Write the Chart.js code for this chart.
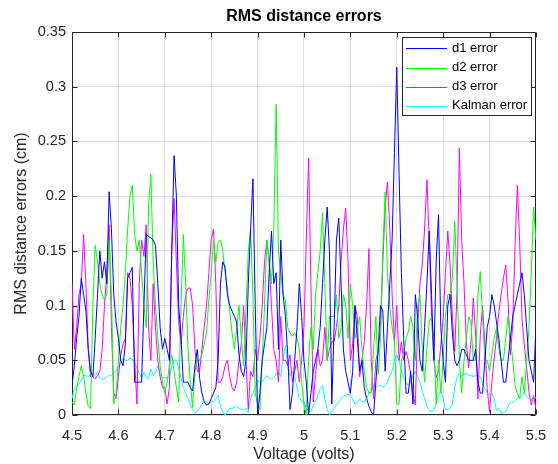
<!DOCTYPE html>
<html>
<head>
<meta charset="utf-8">
<script src="https://cdn.jsdelivr.net/npm/chart.js@4.4.1/dist/chart.umd.min.js"></script>
<style>
html,body{margin:0;padding:0;background:#fff;}
canvas{display:block;}
</style>
</head>
<body>
<canvas id="c" width="558" height="464"></canvas>
<script>
// ---- data ----
const X_START = 4.5, X_STEP = 0.005;   // sampling grid of the voltage sweep

const d1Error = [
0.027,0.045,0.07,0.09,0.125,0.11,0.095,0.06,0.04,0.035,
0.07,0.11,0.15,0.125,0.14,0.12,0.204,0.17,0.11,0.085,
0.07,0.05,0.045,0.065,0.125,0.13,0.135,0.03,0.03,0.03,
0.03,0.1,0.165,0.163,0.162,0.16,0.155,0.12,0.08,0.06,
0.07,0.06,0.05,0.15,0.237,0.2,0.1,0.07,0.03,0.03,
0.03,0.025,0.022,0.045,0.06,0.034,0.02,0.012,0.009,0.01,
0.015,0.02,0.025,0.05,0.12,0.14,0.135,0.11,0.1,0.095,
0.09,0.085,0.055,0.04,0.035,0.05,0.12,0.17,0.216,0.1,
0.0,0.02,0.05,0.065,0.08,0.13,0.168,0.12,0.13,0.06,
0.16,0.11,0.09,0.055,0.005,0.02,0.05,0.08,0.12,0.09,
0.05,0.03,0.0,0.02,0.04,0.05,0.06,0.08,0.12,0.16,
0.19,0.15,0.01,0.08,0.16,0.18,0.12,0.06,0.04,0.03,
0.02,0.04,0.1,0.07,0.04,0.05,0.025,0.015,0.008,0.003,
0.0,0.03,0.06,0.1,0.095,0.04,0.08,0.12,0.16,0.24,
0.318,0.22,0.13,0.07,0.02,0.02,0.04,0.01,0.11,0.09,
0.05,0.04,0.08,0.12,0.168,0.11,0.05,0.14,0.183,0.08,
0.05,0.03,0.1,0.11,0.075,0.05,0.045,0.05,0.06,0.06,
0.055,0.05,0.05,0.05,0.06,0.03,0.02,0.02,0.05,0.08,
0.09,0.11,0.1,0.085,0.07,0.05,0.03,0.03,0.05,0.07,
0.09,0.1,0.11,0.12,0.13,0.11,0.08,0.05,0.04,0.03,
0.08];

const d2Error = [
0.012,0.009,0.025,0.035,0.045,0.035,0.02,0.008,0.006,0.1,
0.155,0.14,0.12,0.11,0.105,0.11,0.16,0.11,0.01,0.02,
0.05,0.08,0.1,0.13,0.17,0.2,0.21,0.165,0.15,0.16,
0.13,0.1,0.08,0.19,0.22,0.14,0.1,0.07,0.045,0.03,
0.02,0.03,0.045,0.055,0.04,0.025,0.012,0.1,0.165,0.12,
0.06,0.03,0.007,0.04,0.05,0.05,0.055,0.065,0.075,0.105,
0.13,0.16,0.14,0.158,0.16,0.15,0.13,0.115,0.095,0.075,
0.06,0.08,0.1,0.07,0.045,0.095,0.15,0.17,0.11,0.02,
0.01,0.005,0.05,0.1,0.16,0.14,0.12,0.17,0.284,0.15,
0.13,0.11,0.105,0.08,0.075,0.072,0.075,0.07,0.06,0.03,
0.01,0.0,0.05,0.08,0.06,0.11,0.13,0.15,0.185,0.12,
0.05,0.09,0.09,0.09,0.11,0.07,0.08,0.11,0.1,0.07,
0.12,0.1,0.07,0.08,0.09,0.06,0.04,0.025,0.02,0.02,
0.06,0.09,0.037,0.07,0.15,0.204,0.13,0.1,0.08,0.067,
0.01,0.01,0.05,0.055,0.07,0.076,0.09,0.08,0.05,0.1,
0.11,0.06,0.03,0.06,0.085,0.09,0.07,0.01,0.05,0.02,
0.05,0.09,0.11,0.11,0.125,0.177,0.12,0.05,0.02,0.05,
0.07,0.09,0.085,0.05,0.05,0.11,0.131,0.09,0.05,0.05,
0.04,0.055,0.07,0.08,0.06,0.05,0.05,0.07,0.09,0.07,
0.05,0.027,0.02,0.015,0.035,0.02,0.05,0.08,0.13,0.19,
0.16];

const d3Error = [
0.12,0.06,0.08,0.11,0.12,0.165,0.12,0.06,0.035,0.035,
0.033,0.036,0.04,0.06,0.1,0.13,0.174,0.08,0.02,0.015,
0.035,0.055,0.065,0.07,0.13,0.125,0.1,0.05,0.01,0.12,
0.16,0.145,0.174,0.08,0.05,0.12,0.08,0.05,0.035,0.025,
0.025,0.01,0.025,0.15,0.198,0.14,0.085,0.065,0.09,0.11,
0.116,0.116,0.1,0.06,0.04,0.04,0.06,0.08,0.1,0.13,
0.16,0.17,0.12,0.03,0.03,0.035,0.045,0.05,0.035,0.025,
0.022,0.03,0.05,0.065,0.1,0.05,0.005,0.04,0.035,0.06,
0.05,0.07,0.1,0.14,0.16,0.14,0.1,0.06,0.05,0.03,
0.09,0.05,0.05,0.045,0.055,0.03,0.04,0.05,0.03,0.05,
0.08,0.16,0.235,0.12,0.012,0.037,0.06,0.045,0.05,0.08,
0.05,0.06,0.067,0.067,0.08,0.1,0.14,0.17,0.189,0.14,
0.05,0.065,0.1,0.09,0.035,0.05,0.067,0.1,0.152,0.05,
0.015,0.05,0.058,0.08,0.14,0.19,0.213,0.17,0.11,0.067,
0.1,0.05,0.067,0.05,0.058,0.05,0.037,0.02,0.009,0.08,
0.12,0.137,0.17,0.215,0.16,0.09,0.05,0.034,0.04,0.064,
0.088,0.13,0.168,0.137,0.088,0.058,0.113,0.244,0.16,0.12,
0.067,0.043,0.067,0.107,0.073,0.015,0.073,0.1,0.064,0.024,
0.003,0.03,0.052,0.07,0.094,0.11,0.125,0.137,0.104,0.055,
0.082,0.155,0.21,0.158,0.088,0.064,0.043,0.021,0.009,0.018,
0.006];

const kalmanError = [
0.015,0.024,0.027,0.028,0.032,0.036,0.036,0.035,0.037,0.038,
0.036,0.039,0.034,0.033,0.033,0.035,0.037,0.036,0.038,0.04,
0.044,0.048,0.052,0.05,0.05,0.052,0.051,0.048,0.043,0.038,
0.034,0.039,0.034,0.033,0.042,0.036,0.038,0.045,0.037,0.034,
0.034,0.034,0.034,0.045,0.05,0.05,0.043,0.034,0.025,0.02,
0.015,0.01,0.005,0.002,0.003,0.006,0.01,0.012,0.012,0.01,
0.012,0.012,0.015,0.018,0.008,0.003,0.0,0.003,0.006,0.006,
0.007,0.008,0.006,0.005,0.004,0.006,0.002,0.015,0.02,0.025,
0.032,0.03,0.03,0.033,0.036,0.034,0.033,0.034,0.038,0.04,
0.035,0.052,0.064,0.045,0.036,0.04,0.035,0.025,0.015,0.013,
0.012,0.006,0.004,0.003,0.009,0.012,0.018,0.024,0.027,0.015,
0.005,0.0,0.003,0.006,0.009,0.012,0.015,0.017,0.018,0.019,
0.018,0.015,0.01,0.012,0.015,0.012,0.012,0.015,0.02,0.021,
0.027,0.025,0.027,0.027,0.025,0.027,0.03,0.036,0.04,0.05,
0.055,0.05,0.04,0.034,0.03,0.027,0.03,0.036,0.04,0.035,
0.03,0.022,0.015,0.008,0.004,0.003,0.004,0.01,0.018,0.022,
0.015,0.005,0.005,0.006,0.01,0.025,0.035,0.038,0.036,0.037,
0.038,0.036,0.036,0.035,0.036,0.036,0.035,0.028,0.024,0.02,
0.018,0.02,0.015,0.004,0.006,0.002,0.002,0.003,0.008,0.011,
0.012,0.013,0.015,0.016,0.018,0.021,0.017,0.015,0.014,0.015,
0.016];

const seriesNames  = ['d1 error', 'd2 error', 'd3 error', 'Kalman error'];
const seriesColors = ['#0000ff', '#00ff00', '#ff00ff', '#00ffff'];

const xTicks      = [4.5, 4.6, 4.7, 4.8, 4.9, 5.0, 5.1, 5.2, 5.3, 5.4, 5.5];
const xTickLabels = ['4.5','4.6','4.7','4.8','4.9','5','5.1','5.2','5.3','5.4','5.5'];
const yTicks      = [0, 0.05, 0.1, 0.15, 0.2, 0.25, 0.3, 0.35];
const yTickLabels = ['0','0.05','0.1','0.15','0.2','0.25','0.3','0.35'];

const chartTitle = 'RMS distance errors';
const xTitle = 'Voltage (volts)';
const yTitle = 'RMS distance errors (cm)';

// ---- build ----
const voltage = d1Error.map((_, i) => +(X_START + i * X_STEP).toFixed(3));
const allSeries = [d1Error, d2Error, d3Error, kalmanError];

const FONT = '"Liberation Sans", Arial, Helvetica, sans-serif';
const AXIS_COLOR = '#262626';
const GRID_COLOR = 'rgba(38,38,38,0.15)';

const matlabFrame = {
  id: 'matlabFrame',
  beforeDatasetsDraw(chart) {
    const {ctx, chartArea: a, scales} = chart;
    const L = Math.round(a.left) + 0.5, R = Math.round(a.right) - 0.5;
    const T = Math.round(a.top) + 0.5, B = Math.round(a.bottom) - 0.5;
    const tl = 5;
    ctx.save();
    ctx.strokeStyle = AXIS_COLOR;
    ctx.lineWidth = 1;
    ctx.beginPath();
    ctx.rect(L, T, R - L, B - T);
    xTicks.forEach(v => {
      const px = Math.round(scales.x.getPixelForValue(v)) + 0.5;
      ctx.moveTo(px, B); ctx.lineTo(px, B - tl);
      ctx.moveTo(px, T); ctx.lineTo(px, T + tl);
    });
    yTicks.forEach(v => {
      const py = Math.round(scales.y.getPixelForValue(v)) + 0.5;
      ctx.moveTo(L, py); ctx.lineTo(L + tl, py);
      ctx.moveTo(R, py); ctx.lineTo(R - tl, py);
    });
    ctx.stroke();
    ctx.restore();
  }
};

const titleAndLegend = {
  id: 'titleAndLegend',
  afterDraw(chart) {
    const {ctx, chartArea: a} = chart;
    ctx.save();
    // title centred over the plot area
    ctx.font = 'bold 16px ' + FONT;
    ctx.fillStyle = '#000';
    ctx.textAlign = 'center';
    ctx.textBaseline = 'middle';
    ctx.fillText(chartTitle, (a.left + a.right) / 2, 17);

    // legend box (top right, inside axes)
    const ds = chart.data.datasets;
    const w = 129, h = 78, rowH = 19.2;
    const bx = Math.round(a.right - 5 - w), by = Math.round(a.top + 5);
    ctx.fillStyle = '#fff';
    ctx.fillRect(bx, by, w, h);
    ctx.strokeStyle = AXIS_COLOR;
    ctx.lineWidth = 1;
    ctx.strokeRect(bx + 0.5, by + 0.5, w, h);
    ctx.font = '13px ' + FONT;
    ctx.textAlign = 'left';
    ctx.textBaseline = 'middle';
    ds.forEach((d, i) => {
      const yy = by + 11.3 + i * rowH;
      ctx.strokeStyle = d.borderColor;
      ctx.beginPath();
      ctx.moveTo(bx + 4, Math.round(yy) + 0.5);
      ctx.lineTo(bx + 45, Math.round(yy) + 0.5);
      ctx.stroke();
      ctx.fillStyle = '#000';
      ctx.fillText(d.label, bx + 50, yy);
    });
    ctx.restore();
  }
};

new Chart(document.getElementById('c'), {
  type: 'line',
  data: {
    datasets: allSeries.map((s, k) => ({
      label: seriesNames[k],
      data: s.map((v, i) => ({x: voltage[i], y: v})),
      borderColor: seriesColors[k],
      backgroundColor: seriesColors[k],
      borderWidth: 1,
      pointRadius: 0,
      tension: 0,
      fill: false
    }))
  },
  options: {
    responsive: false,
    animation: false,
    devicePixelRatio: 1,
    layout: {padding: {top: 32, right: 19, bottom: 0, left: 0}},
    plugins: {
      legend: {display: false},
      title: {display: false},
      tooltip: {enabled: false}
    },
    scales: {
      x: {
        type: 'linear',
        min: 4.5, max: 5.5,
        afterBuildTicks: s => { s.ticks = xTicks.map(v => ({value: v})); },
        afterFit: s => { s.height = 49; },
        grid: {color: GRID_COLOR, lineWidth: 1, drawTicks: false},
        border: {display: false},
        ticks: {
          callback: (v, i) => xTickLabels[i],
          font: {family: FONT, size: 14.5},
          color: AXIS_COLOR,
          padding: 12,
          maxRotation: 0,
          autoSkip: false
        },
        title: {
          display: true, text: xTitle, color: AXIS_COLOR,
          font: {family: FONT, size: 16, lineHeight: 1},
          padding: {top: 0, bottom: 1}
        }
      },
      y: {
        type: 'linear',
        min: 0, max: 0.35,
        afterBuildTicks: s => { s.ticks = yTicks.map(v => ({value: v})); },
        afterFit: s => { s.width = 72; },
        grid: {color: GRID_COLOR, lineWidth: 1, drawTicks: false},
        border: {display: false},
        ticks: {
          callback: (v, i) => yTickLabels[i],
          font: {family: FONT, size: 14.5},
          color: AXIS_COLOR,
          padding: 6,
          autoSkip: false
        },
        title: {
          display: true, text: yTitle, color: AXIS_COLOR,
          font: {family: FONT, size: 16, lineHeight: 1},
          padding: {top: 14, bottom: 0}
        }
      }
    }
  },
  plugins: [matlabFrame, titleAndLegend]
});
</script>
</body>
</html>
